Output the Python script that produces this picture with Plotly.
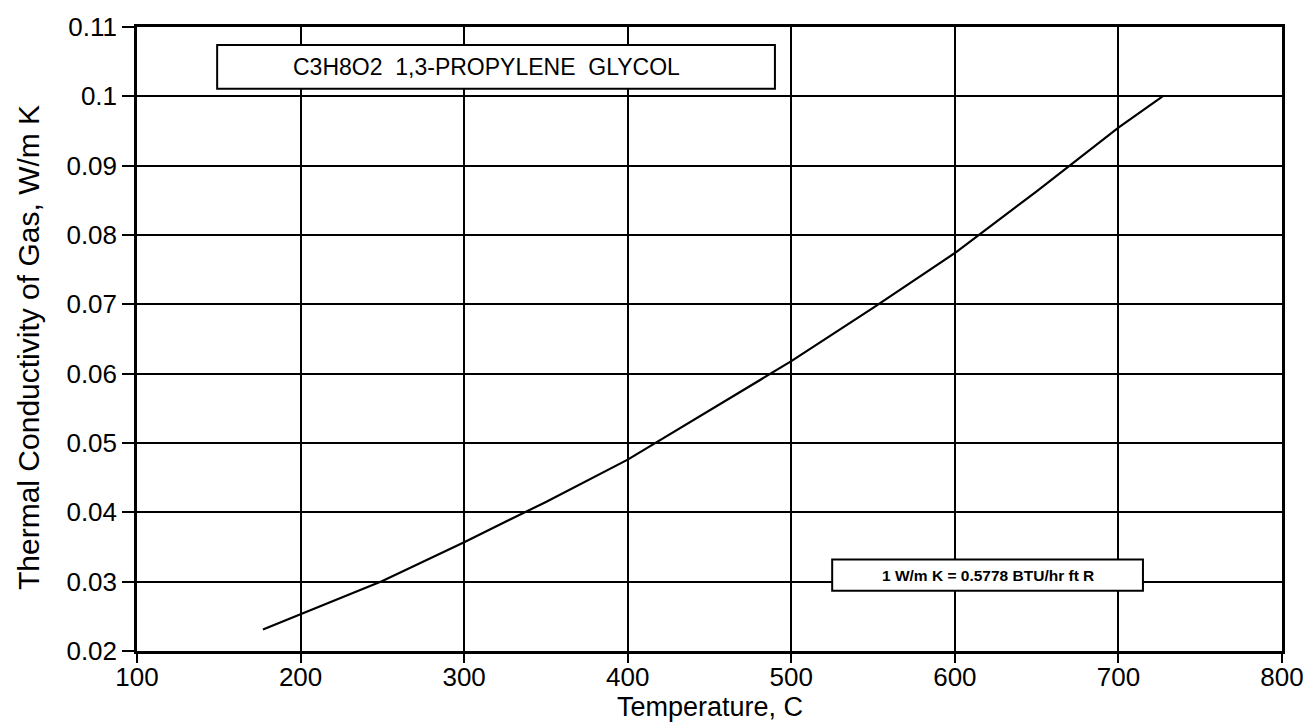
import plotly.graph_objects as go

temperature = [177, 200, 250, 300, 350, 400, 450, 500, 550, 600, 650, 700, 727]
conductivity = [0.0231, 0.0253, 0.0301, 0.0357, 0.0415, 0.0476, 0.0547,
                0.0618, 0.0695, 0.0774, 0.0863, 0.0955, 0.1]

x_ticks = [100, 200, 300, 400, 500, 600, 700, 800]
x_ticktext = ['100', '200', '300', '400', '500', '600', '700', '800']
y_ticks = [0.02, 0.03, 0.04, 0.05, 0.06, 0.07, 0.08, 0.09, 0.1, 0.11]
y_ticktext = ['0.02', '0.03', '0.04', '0.05', '0.06', '0.07', '0.08', '0.09', '0.1', '0.11']

compound_label = 'C3H8O2\u00a0 1,3-PROPYLENE\u00a0 GLYCOL'
unit_label = '1 W/m K = 0.5778 BTU/hr ft R'
x_title = 'Temperature, C'
y_title = 'Thermal Conductivity of Gas, W/m K'

fig = go.Figure()

fig.add_trace(
    go.Scatter(
        x=temperature,
        y=conductivity,
        mode='lines',
        line=dict(color='black', width=2.2),
        showlegend=False
    )
)

# label boxes
fig.add_shape(type='rect', xref='x', yref='y', x0=149, x1=490, y0=0.1011, y1=0.1074,
              line=dict(color='black', width=2), fillcolor='white', layer='above')
fig.add_annotation(x=194, y=0.10425, xref='x', yref='y', text=compound_label,
                   xanchor='left', showarrow=False, font=dict(size=23, color='black'))

fig.add_shape(type='rect', xref='x', yref='y', x0=525, x1=715, y0=0.0287, y1=0.0332,
              line=dict(color='black', width=2), fillcolor='white', layer='above')
fig.add_annotation(x=620, y=0.03095, xref='x', yref='y', text='<b>' + unit_label + '</b>',
                   showarrow=False, font=dict(size=15.5, color='black'))

# axis titles
fig.add_annotation(x=0.5, y=-0.0897, xref='paper', yref='paper', text=x_title,
                   showarrow=False, yanchor='middle', font=dict(size=27, color='black'))
fig.add_annotation(x=-0.0943, y=0.4856, xref='paper', yref='paper', text=y_title,
                   textangle=-90, showarrow=False, xanchor='center', yanchor='middle',
                   font=dict(size=30, color='black'))

fig.update_xaxes(
    range=[100, 800],
    tickvals=x_ticks,
    ticktext=x_ticktext,
    ticks='outside',
    ticklen=9,
    tickwidth=2,
    tickcolor='black',
    ticklabelstandoff=-8,
    showgrid=True,
    gridcolor='black',
    gridwidth=1.8,
    showline=True,
    linecolor='black',
    linewidth=2.5,
    mirror=True,
    zeroline=False,
    automargin=False,
    tickfont=dict(size=26, color='black')
)
fig.update_yaxes(
    range=[0.02, 0.11],
    tickvals=y_ticks,
    ticktext=y_ticktext,
    ticks='outside',
    ticklen=12,
    tickwidth=2,
    tickcolor='black',
    showgrid=True,
    gridcolor='black',
    gridwidth=1.8,
    showline=True,
    linecolor='black',
    linewidth=2.5,
    mirror=True,
    zeroline=False,
    automargin=False,
    tickfont=dict(size=26, color='black')
)
fig.update_layout(
    width=1314,
    height=722,
    margin=dict(l=129, r=40, t=19, b=79),
    plot_bgcolor='#FFFFFF',
    paper_bgcolor='#FFFFFF',
    font=dict(family='Liberation Sans, Arial, sans-serif', color='black')
)

fig.write_html('out.html')
